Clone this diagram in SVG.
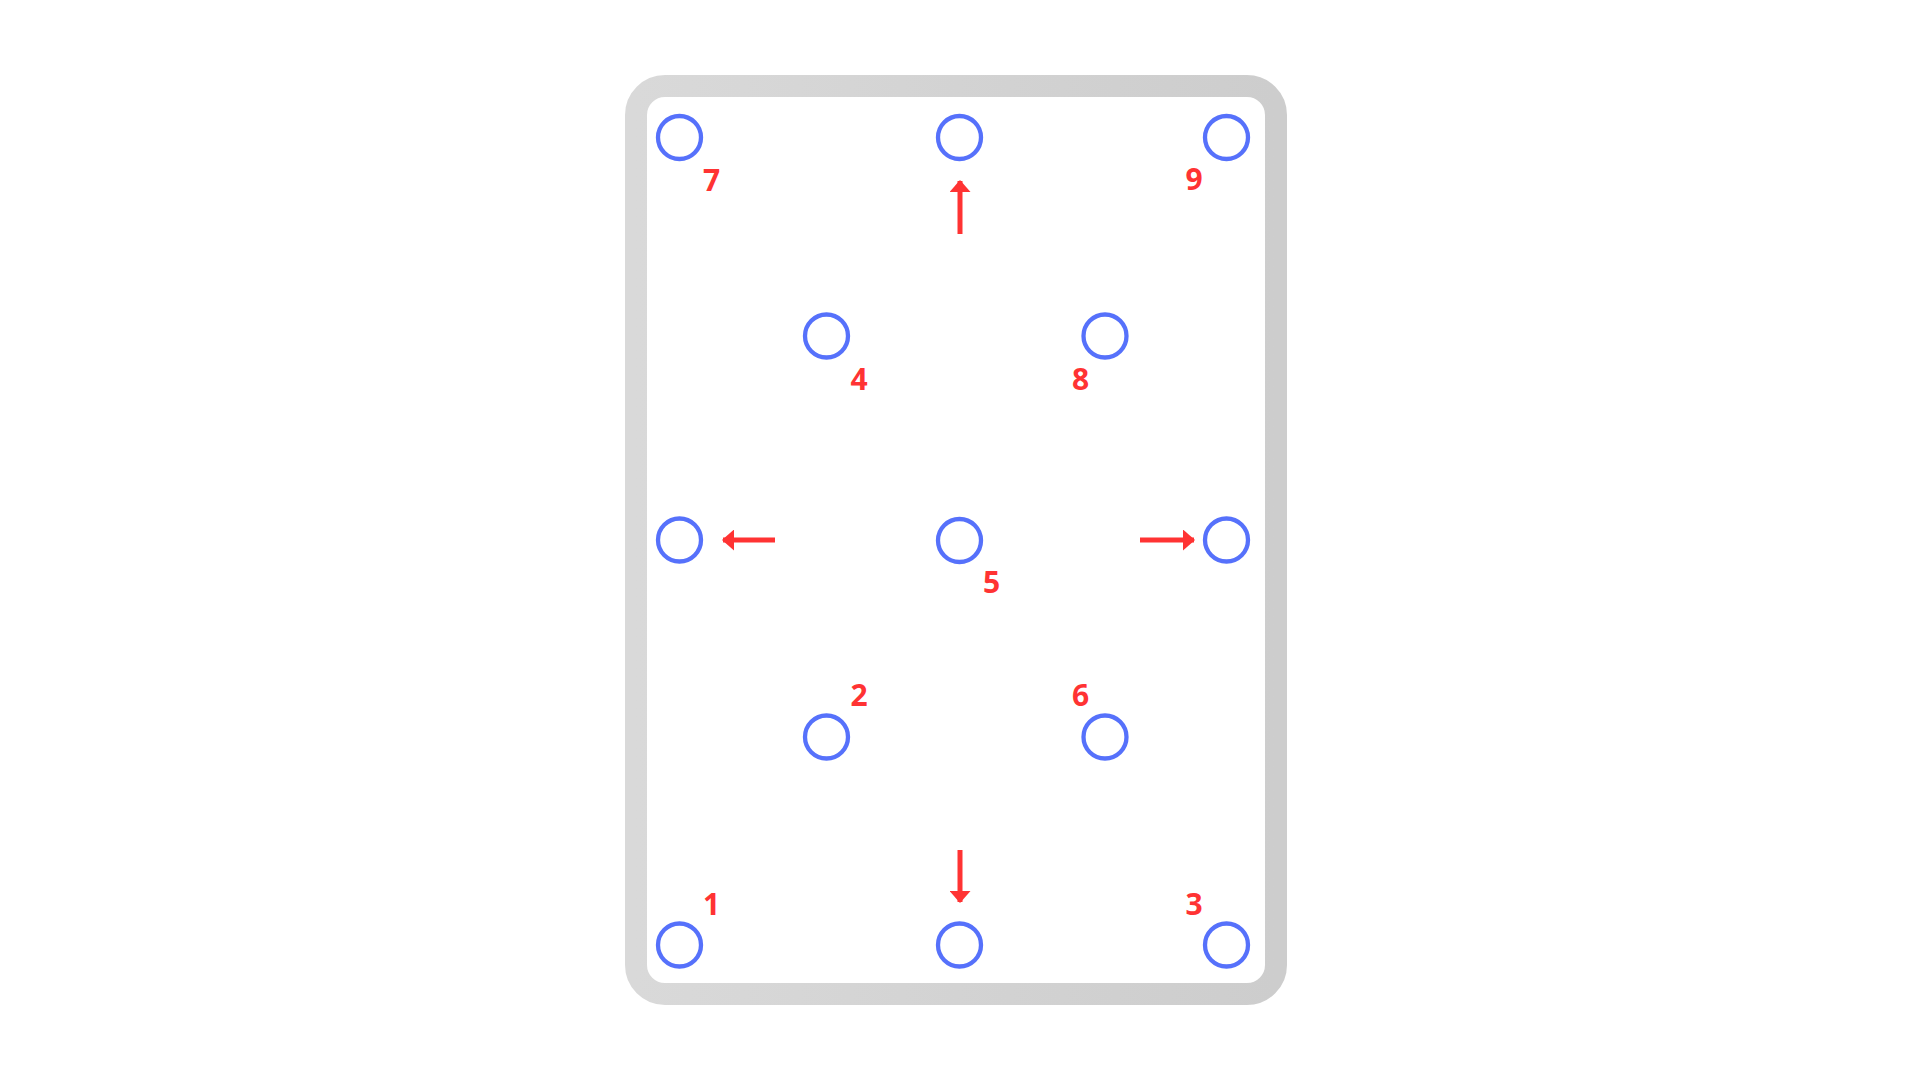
<svg xmlns="http://www.w3.org/2000/svg" width="1920" height="1080" viewBox="0 0 1920 1080">
<style>
.node circle{fill:none;stroke:#5671fb;stroke-width:4.3}
.lbl{font-family:"Open Sans","Noto Sans",sans-serif;font-weight:700;font-size:30px;fill:#ff3333;text-anchor:middle}
.arr{stroke:#ff3333;stroke-width:5;fill:none}
</style>
<defs>
<linearGradient id="fr" x1="0" y1="0" x2="1" y2="0">
<stop offset="0" stop-color="#d9d9d9"/>
<stop offset="1" stop-color="#cdcdcd"/>
</linearGradient>
<marker id="ah" viewBox="0 0 12 21" refX="11" refY="10.5" markerWidth="12" markerHeight="21" markerUnits="userSpaceOnUse" orient="auto">
<path d="M0,0 L12,10.5 L0,21 Z" fill="#ff3333"/>
</marker>
</defs>
<rect width="1920" height="1080" fill="#ffffff"/>
<g id="frame">
<rect x="636" y="86" width="640" height="908" rx="29" ry="29" fill="#ffffff" stroke="url(#fr)" stroke-width="22"/>
</g>
<g id="connectors">
<line class="arr" x1="960" y1="234" x2="960" y2="181" marker-end="url(#ah)"/>
<line class="arr" x1="775" y1="540" x2="723" y2="540" marker-end="url(#ah)"/>
<line class="arr" x1="1140" y1="540" x2="1194" y2="540" marker-end="url(#ah)"/>
<line class="arr" x1="960" y1="850" x2="960" y2="902" marker-end="url(#ah)"/>
</g>
<g id="n7" class="node"><circle cx="679.5" cy="137.5" r="21.5"/><text class="lbl" x="711.5" y="191">7</text></g>
<g id="ntop" class="node"><circle cx="959.5" cy="137.5" r="21.5"/></g>
<g id="n9" class="node"><circle cx="1226.5" cy="137.5" r="21.5"/><text class="lbl" x="1194" y="190">9</text></g>
<g id="n4" class="node"><circle cx="826.5" cy="336" r="21.5"/><text class="lbl" x="859" y="390">4</text></g>
<g id="n8" class="node"><circle cx="1105" cy="336" r="21.5"/><text class="lbl" x="1080.5" y="390">8</text></g>
<g id="nleft" class="node"><circle cx="679.5" cy="540" r="21.5"/></g>
<g id="n5" class="node"><circle cx="959.5" cy="540.5" r="21.5"/><text class="lbl" x="991.5" y="593">5</text></g>
<g id="nright" class="node"><circle cx="1226.5" cy="540" r="21.5"/></g>
<g id="n2" class="node"><circle cx="826.5" cy="737" r="21.5"/><text class="lbl" x="859" y="706">2</text></g>
<g id="n6" class="node"><circle cx="1105" cy="737" r="21.5"/><text class="lbl" x="1080.5" y="706">6</text></g>
<g id="n1" class="node"><circle cx="679.5" cy="945" r="21.5"/><text class="lbl" x="711.5" y="915">1</text></g>
<g id="nbottom" class="node"><circle cx="959.5" cy="945" r="21.5"/></g>
<g id="n3" class="node"><circle cx="1226.5" cy="945" r="21.5"/><text class="lbl" x="1194" y="915">3</text></g>
</svg>
